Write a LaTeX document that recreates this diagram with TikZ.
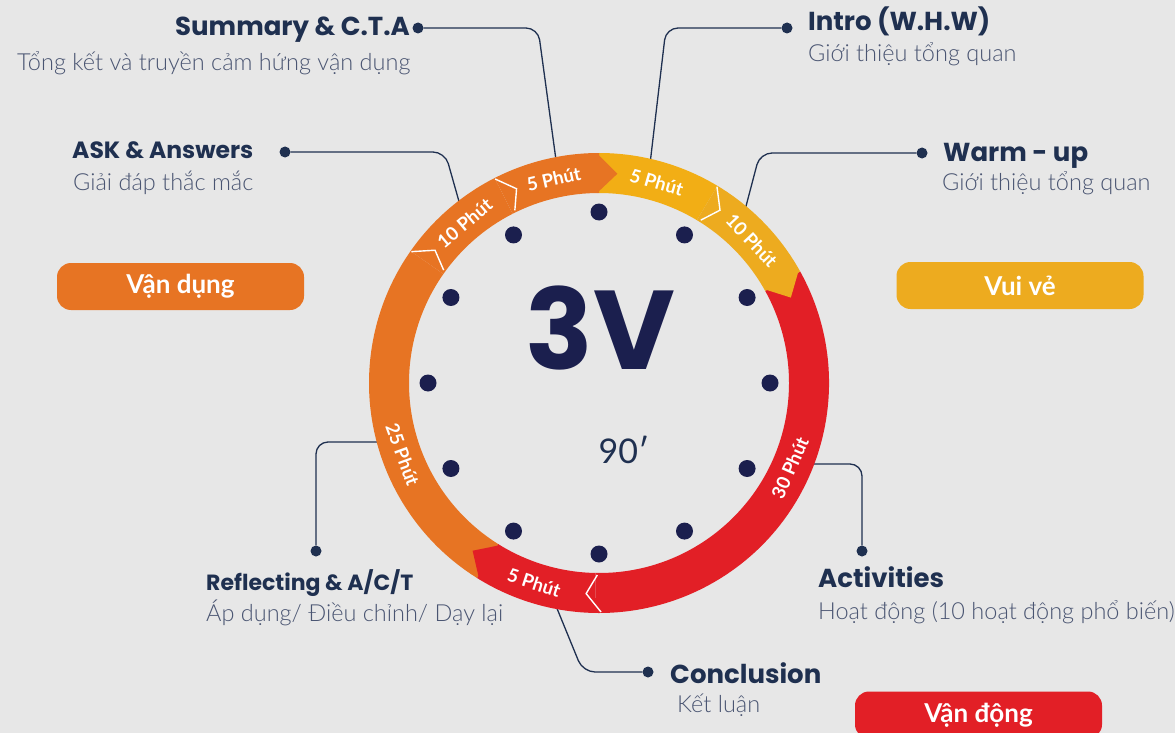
\documentclass[tikz,border=0pt]{standalone}
\usepackage{fontspec}
\setmainfont{Lato}
\newfontfamily\titlefont{Poppins}
\newfontfamily\subfont{Lato}[UprightFont=* Light]
\definecolor{bgc}{HTML}{E7E7E7}
\definecolor{orangec}{HTML}{E77423}
\definecolor{yelA}{HTML}{F2AE15}
\definecolor{yelB}{HTML}{EDAB1F}
\definecolor{redc}{HTML}{E21F26}
\definecolor{navyc}{HTML}{1B1F4E}
\definecolor{titlec}{HTML}{1F3050}
\definecolor{subc}{HTML}{4A5572}
\tikzset{
 conn/.style={draw=titlec, line width=1.3pt, rounded corners=12pt},
 cdot/.style={circle, fill=titlec, inner sep=0pt, minimum size=11pt},
 ttl/.style={text=titlec, font=\titlefont\bfseries\fontsize{26}{30}\selectfont, inner sep=0pt},
 sub/.style={text=subc, font=\subfont\fontsize{23.5}{27}\selectfont, inner sep=0pt},
 pill/.style={rounded corners=14pt, minimum width=247pt, minimum height=47pt, text=white, font=\bfseries\fontsize{26}{30}\selectfont, inner sep=0pt},
 ringlbl/.style={text=white, font=\bfseries\fontsize{18.5}{20}\selectfont, inner sep=0pt},
 chev/.style={draw=white, line width=1.4pt},
}
\newcommand\ringseg[3]{%
 \pgfmathsetmacro\rsA{90-#2}\pgfmathsetmacro\rsB{90-#3}%
 \fill[#1] (\rsA:230) arc[start angle=\rsA, end angle=\rsB, radius=230] -- (\rsB:190) arc[start angle=\rsB, end angle=\rsA, radius=190] -- cycle;}
\newcommand\ringtip[2]{%
 \pgfmathsetmacro\rsA{90-#2+0.6}\pgfmathsetmacro\rsB{90-#2-5}%
 \fill[#1] (\rsA:230) -- (\rsB:210) -- (\rsA:190) -- cycle;}
\newcommand\ringchev[1]{%
 \pgfmathsetmacro\rsA{90-#1}\pgfmathsetmacro\rsB{90-#1-4}\pgfmathsetmacro\rsC{90-#1-1}%
 \draw[chev] (\rsA:229) -- (\rsB:211) -- (\rsC:192);}
\begin{document}
\begin{tikzpicture}[x=1pt,y=-1pt]
\fill[bgc] (0,0) rectangle (1175,733);
\useasboundingbox (0,0) rectangle (1175,733);

% connector dots and ring anchors
\node[cdot] (dSum) at (418,28) {};
\node[cdot] (dIntro) at (787,28) {};
\node[cdot] (dWarm) at (922,153) {};
\node[cdot] (dAsk) at (285,152) {};
\node[cdot] (dRef) at (316,551) {};
\node[cdot] (dAct) at (862,551) {};
\node[cdot] (dCon) at (648,672) {};
\coordinate (rSum) at (556,160);
\coordinate (rIntro) at (650,164);
\coordinate (rWarm) at (745,210);
\coordinate (rAsk) at (460,205);
\coordinate (rRef) at (382,442);
\coordinate (rAct) at (810,464);
\coordinate (rCon) at (556,606);

\draw[conn] (dSum) -- (538,28) -- (rSum);
\draw[conn] (dIntro) -- (666,28) -- (rIntro);
\draw[conn] (dWarm) -- (760,153) -- (rWarm);
\draw[conn] (dAsk) -- (445,152) -- (rAsk);
\draw[conn] (dRef) -- (316,442) -- (rRef);
\draw[conn] (dAct) -- (862,464) -- (rAct);
\draw[conn] (dCon) -- (583,672) -- (rCon);

% ring
\begin{scope}[shift={(599,383)}, y=1pt]
 \ringseg{redc}{61}{181}
 \ringseg{yelA}{0}{31}
 \ringseg{yelB}{31}{61}
 \ringseg{orangec}{212}{305}
 \ringseg{orangec}{305}{333}
 \ringseg{orangec}{333}{360}
 \ringseg{redc}{181}{212}
 \ringtip{orangec}{360}
 \ringtip{yelB}{61}
 \ringtip{redc}{212}
 \ringchev{31}
 \ringchev{179.5}
 \ringchev{305}
 \ringchev{333}
 \foreach \k in {0,30,...,330} \fill[navyc] (\k:171) circle (8.5);
 \node[ringlbl, rotate=12.5] (lSum) at (102.5:209) {5 Phút};
 \node[ringlbl, rotate=-16] (lIntro) at (74:209) {5 Phút};
 \node[ringlbl, rotate=-47] (lWarm) at (43:209) {10 Phút};
 \node[ringlbl, rotate=40] (lAsk) at (130:209) {10 Phút};
 \node[ringlbl, rotate=-70] (lRef) at (-160:209) {25 Phút};
 \node[ringlbl, rotate=66] (lAct) at (-24:209) {30 Phút};
 \node[ringlbl, rotate=-18] (lCon) at (-108:210) {5 Phút};
\end{scope}

% center
\node[text=navyc, font=\titlefont\bfseries\fontsize{112}{112}\selectfont, inner sep=0pt] (t3v) at (600,328) {3V};
\node[text=titlec, font=\fontsize{34}{36}\selectfont, inner sep=0pt] (t90) at (624,450) {90′};

% titles
\node[ttl, anchor=base east] (tSum) at (410,36) {Summary \& C.T.A};
\node[sub, anchor=base west] (sSum) at (17,71) {Tổng kết và truyền cảm hứng vận dụng};
\node[ttl, font=\titlefont\bfseries\fontsize{23.5}{28}\selectfont, anchor=base west] (tAsk) at (72,158) {ASK \& Answers};
\node[sub, anchor=base west] (sAsk) at (73,190) {Giải đáp thắc mắc};
\node[ttl, anchor=base west] (tIntro) at (808,31) {Intro (W.H.W)};
\node[sub, anchor=base west] (sIntro) at (808,62) {Giới thiệu tổng quan};
\node[ttl, anchor=base west] (tWarm) at (943,161) {Warm - up};
\node[sub, anchor=base west] (sWarm) at (942,190) {Giới thiệu tổng quan};
\node[ttl, font=\titlefont\bfseries\fontsize{22}{26}\selectfont, anchor=base west] (tRef) at (206,590) {Reflecting \& A/C/T};
\node[sub, anchor=base west] (sRef) at (206,621) {Áp dụng/ Điều chỉnh/ Dạy lại};
\node[ttl, anchor=base west] (tAct) at (818,587) {Activities};
\node[sub, anchor=base west] (sAct) at (818,619) {Hoạt động (10 hoạt động phổ biến)};
\node[ttl, anchor=base west] (tCon) at (670,683) {Conclusion};
\node[sub, anchor=base west] (sCon) at (677,712) {Kết luận};

% pills
\node[pill, fill=orangec] (pVd) at (180.5,286.5) {Vận dụng};
\node[pill, fill=yelB] (pVv) at (1020,285.5) {Vui vẻ};
\node[pill, fill=redc] (pVdg) at (978.5,715) {Vận động};
\end{tikzpicture}
\end{document}
